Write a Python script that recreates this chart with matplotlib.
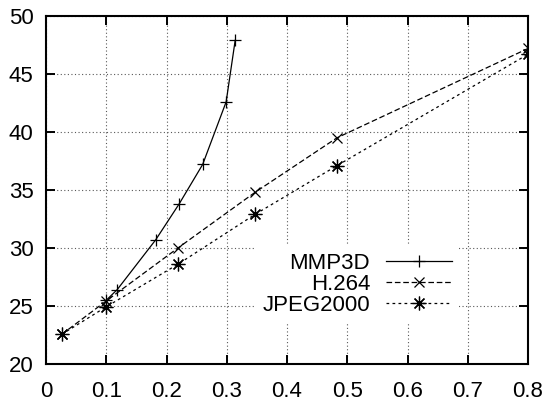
import matplotlib
matplotlib.use("Agg")
import matplotlib.pyplot as plt

plt.rcParams['font.family'] = ['Liberation Sans', 'DejaVu Sans']

mmp3d_x = [0.100, 0.118, 0.182, 0.221, 0.260, 0.299, 0.314]
mmp3d_y = [25.5, 26.4, 30.7, 33.8, 37.2, 42.6, 47.9]
h264_x = [0.026, 0.099, 0.219, 0.347, 0.483, 0.800]
h264_y = [22.55, 25.4, 30.0, 34.8, 39.5, 47.2]
jpeg_x = [0.026, 0.099, 0.219, 0.347, 0.483, 0.800]
jpeg_y = [22.55, 24.9, 28.6, 32.9, 37.1, 46.7]
labels = ["MMP3D", "H.264", "JPEG2000"]
xticks = [0, 0.1, 0.2, 0.3, 0.4, 0.5, 0.6, 0.7, 0.8]
xticklabels = ["0", "0.1", "0.2", "0.3", "0.4", "0.5", "0.6", "0.7", "0.8"]
yticks = [20, 25, 30, 35, 40, 45, 50]

W, H = 550, 404
fig = plt.figure(figsize=(W / 100, H / 100), dpi=100)
ax = fig.add_axes([46 / W, (H - 364) / H, (528 - 46) / W, (364 - 16) / H])

lw = 0.9
ms = 9
ax.plot(mmp3d_x, mmp3d_y, color='black', lw=lw, ls='-', marker='+',
        ms=ms, mew=lw, label=labels[0], zorder=3)
ax.plot(h264_x, h264_y, color='black', lw=lw, ls=(0, (4.5, 2.2)), marker='x',
        ms=ms * 0.85, mew=lw, label=labels[1], zorder=3)
ax.plot(jpeg_x, jpeg_y, color='black', lw=lw, ls=(0, (2.2, 2.6)), marker=(8, 2, 0),
        ms=ms * 1.1, mew=lw, label=labels[2], zorder=3)

ax.set_xlim(0, 0.8)
ax.set_ylim(20, 50)
ax.set_xticks(xticks)
ax.set_xticklabels(xticklabels)
ax.set_yticks(yticks)

ax.tick_params(axis='both', which='major', direction='in', length=6.5, width=1.4,
               top=True, right=True, labelsize=16, colors='black')
ax.tick_params(axis='x', pad=12.5)
ax.tick_params(axis='y', pad=9)
for s in ax.spines.values():
    s.set_linewidth(1.5)

ax.grid(True, color='0.35', ls=(0, (1, 2.2)), lw=0.8)
ax.set_axisbelow(True)

leg = ax.legend(loc='upper right', bbox_to_anchor=(459 / W, (H - 246) / H),
                bbox_transform=fig.transFigure, markerfirst=False,
                frameon=True, fancybox=False, edgecolor='none', facecolor='white',
                framealpha=1, fontsize=16, handlelength=3.0, handletextpad=0.7,
                labelspacing=0.0, borderpad=0.3, borderaxespad=0)
for t in leg.get_texts():
    t.set_ha('right')
leg._legend_box.align = "right"

fig.savefig("out.png", dpi=100)
